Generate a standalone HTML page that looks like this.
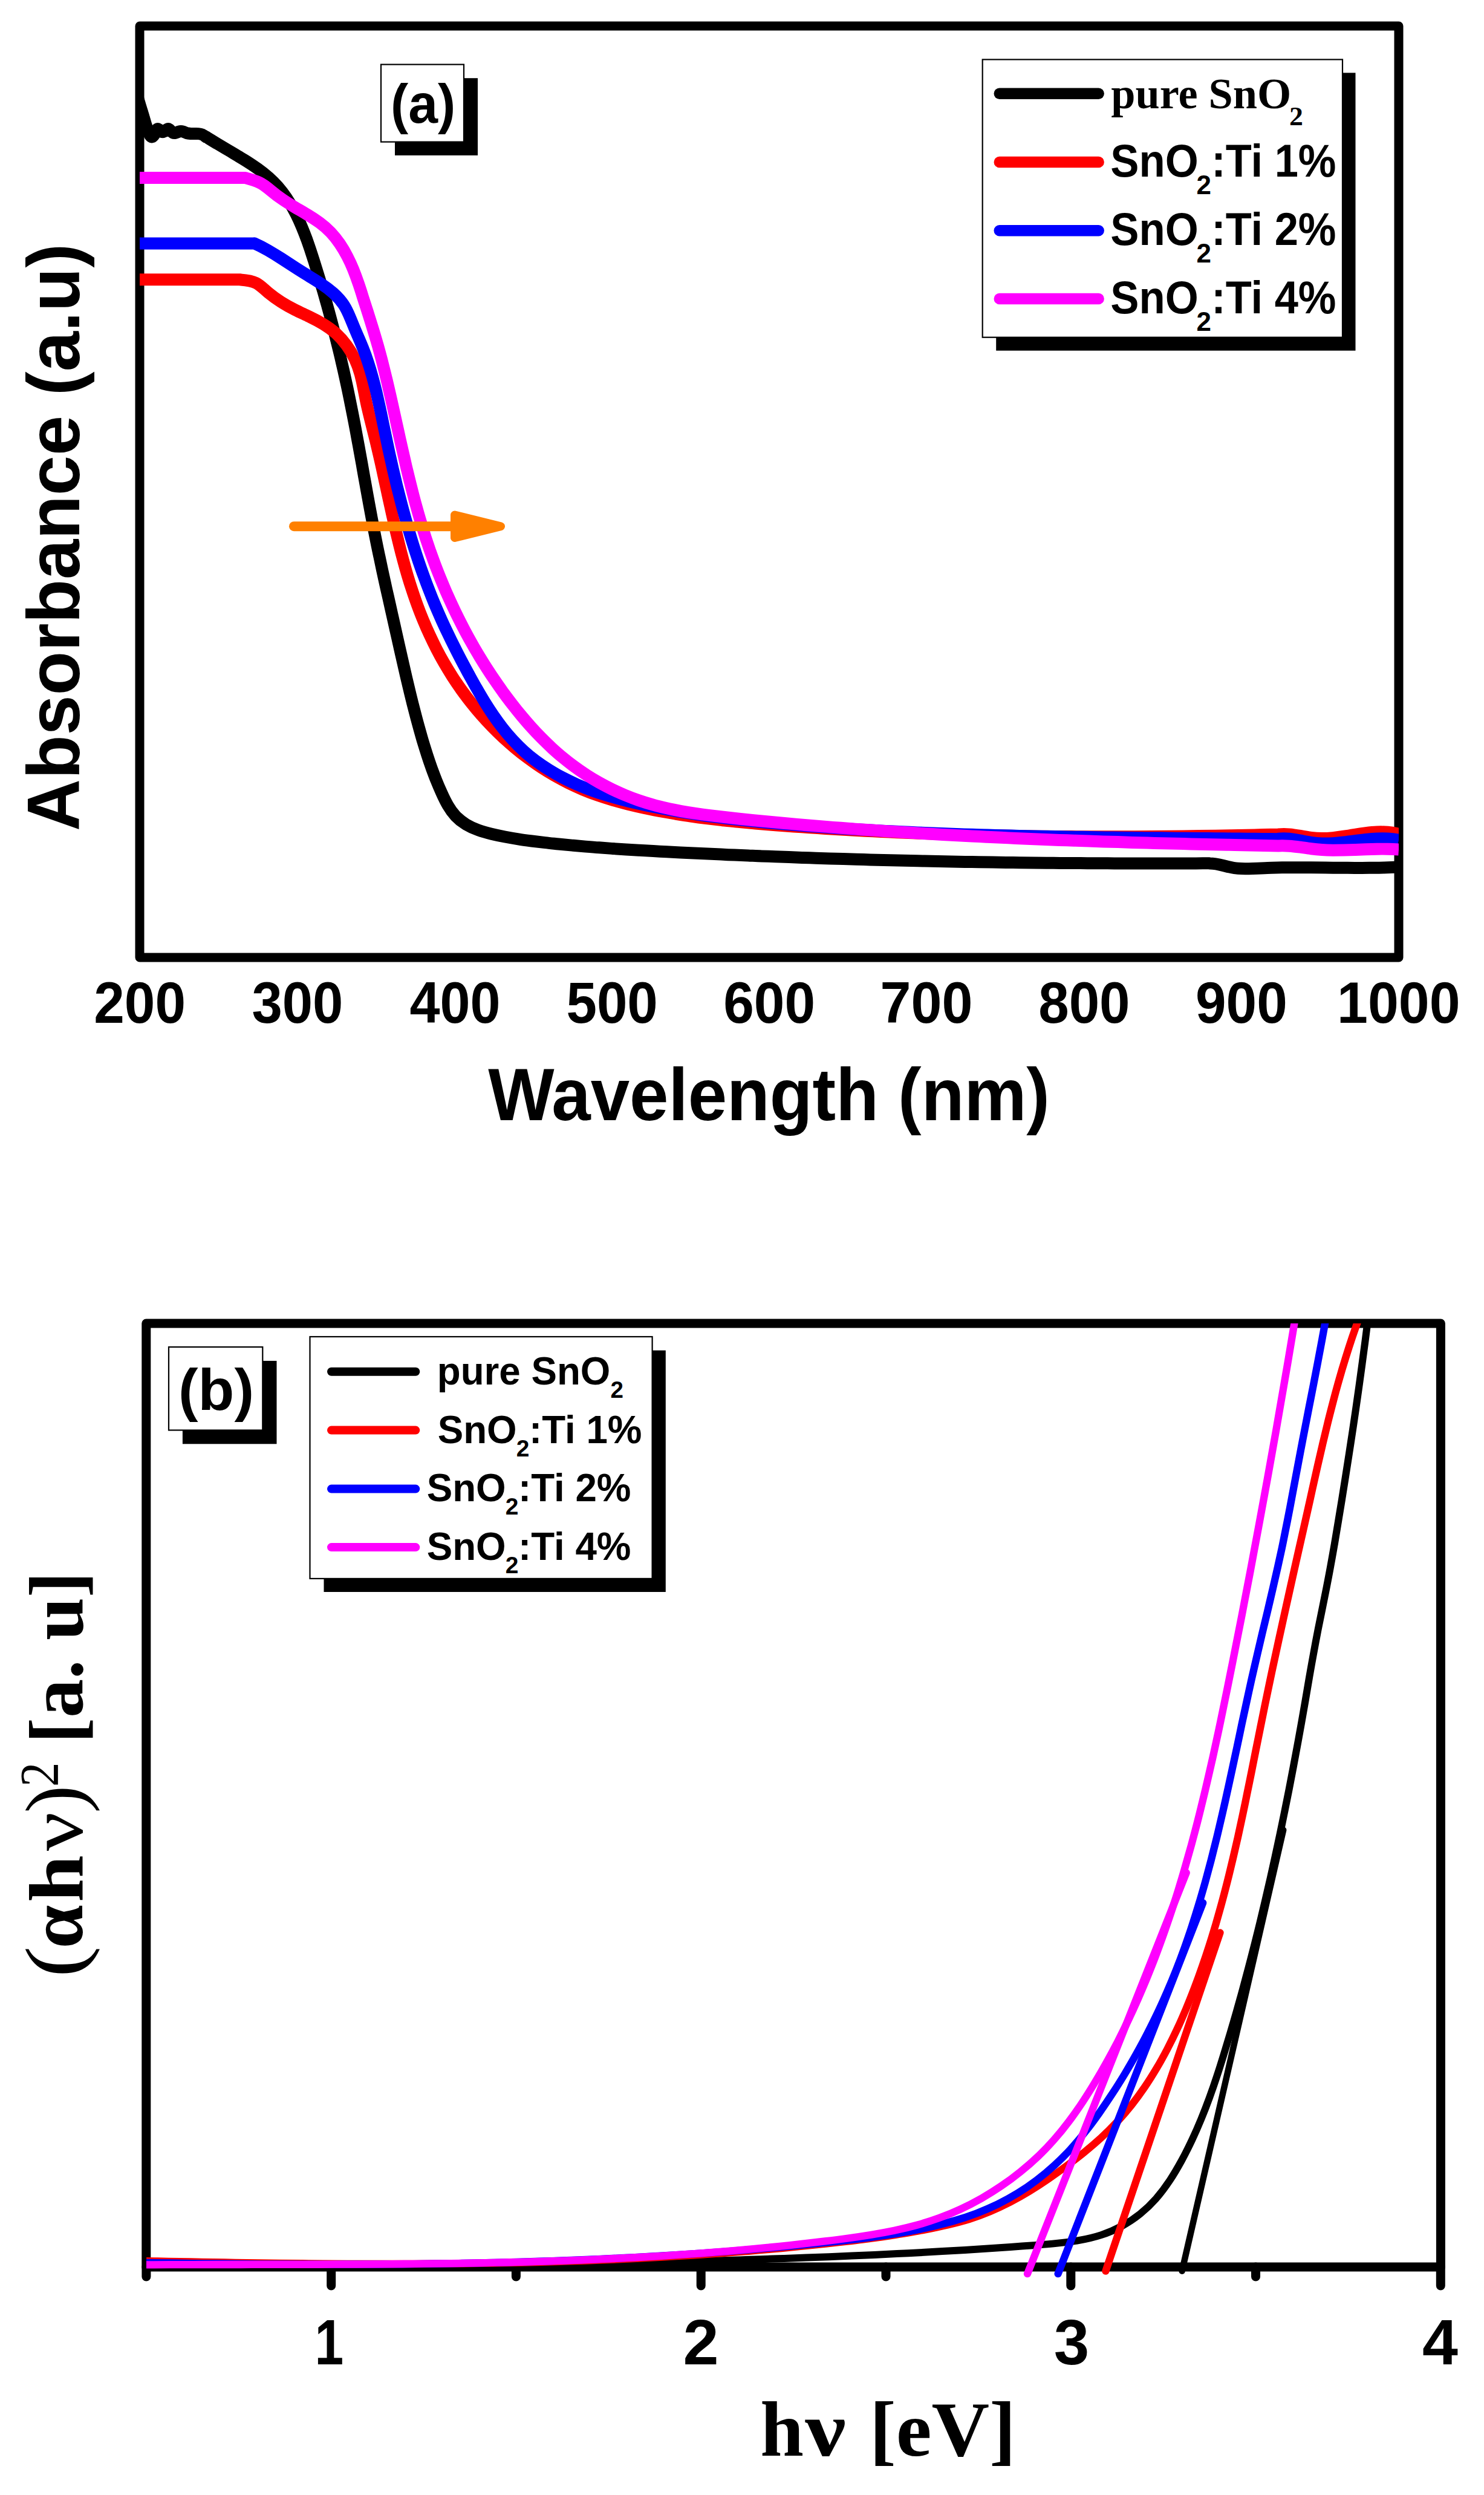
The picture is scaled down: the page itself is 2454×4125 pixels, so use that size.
<!DOCTYPE html>
<html><head><meta charset="utf-8"><title>UV-Vis absorbance and Tauc plots</title>
<style>html,body{margin:0;padding:0;background:#fff}svg{display:block}</style></head><body>
<svg width="2454" height="4125" viewBox="0 0 2454 4125">
<rect x="0" y="0" width="2454" height="4125" fill="#fff"/>
<defs><clipPath id="ca"><rect x="231" y="43" width="2082" height="1540"/></clipPath><clipPath id="cb"><rect x="241.8" y="2188" width="2140.6" height="1580"/></clipPath></defs>
<g id="panel-a">
<rect x="231" y="43" width="2082" height="1540" fill="none" stroke="#000" stroke-width="15" stroke-linejoin="round"/>
<g>
<path d="M227.0,158.0C227.5,160.0 228.1,162.1 228.7,164.2C229.3,166.3 229.9,168.4 230.6,170.5C231.2,172.6 231.8,174.8 232.5,176.9C233.1,179.1 233.8,181.2 234.5,183.3C235.1,185.4 235.7,187.5 236.4,189.5C237.0,191.6 237.6,193.6 238.1,195.5C238.7,197.4 239.2,199.3 239.8,201.2C240.4,203.1 240.9,205.0 241.6,207.0C242.2,209.1 243.0,211.2 243.8,213.6C244.6,216.0 245.6,218.7 246.7,221.2C247.8,223.7 249.0,225.8 250.4,226.3C251.8,226.8 253.5,225.4 254.9,223.1C256.3,220.9 257.3,217.8 258.2,215.6C259.2,213.4 260.3,212.4 261.9,213.5C263.5,214.6 265.5,217.1 267.6,218.0C269.6,218.9 271.6,217.5 273.5,215.9C275.4,214.2 277.3,212.6 278.9,213.1C280.6,213.7 282.1,216.0 283.8,217.7C285.5,219.5 287.4,220.4 289.5,219.9C291.5,219.5 293.8,218.3 296.0,217.5C298.2,216.8 300.3,216.9 302.4,217.6C304.5,218.3 306.5,219.3 308.6,220.0C310.8,220.6 312.9,220.8 315.1,221.0C317.3,221.1 319.5,221.0 321.7,221.0C323.9,220.9 326.0,220.9 328.2,221.1C330.3,221.3 332.4,221.7 334.4,222.5C336.4,223.4 338.4,224.6 340.2,226.4L340.4,226.0C346.9,230.2 353.3,234.0 359.6,237.8C366.0,241.6 372.3,245.3 378.6,249.0C384.9,252.8 391.3,256.5 397.6,260.4C404.0,264.2 410.5,268.2 416.8,272.5C423.2,276.7 429.4,281.1 435.4,285.8C441.4,290.5 447.0,295.5 452.2,300.8C457.5,306.0 462.3,311.6 466.8,317.4C471.2,323.2 475.4,329.3 479.2,335.6C483.1,341.8 486.6,348.3 489.9,354.9C493.2,361.6 496.3,368.4 499.2,375.3C502.1,382.2 504.8,389.2 507.4,396.3C509.9,403.4 512.4,410.5 514.7,417.7C517.1,424.9 519.4,432.1 521.6,439.3C523.9,446.5 526.1,453.7 528.3,460.9C530.4,468.1 532.6,475.3 534.7,482.5C536.7,489.7 538.8,496.9 540.8,504.1C542.8,511.3 544.8,518.5 546.7,525.8C548.6,533.0 550.5,540.2 552.4,547.4C554.2,554.6 556.0,561.8 557.8,569.1C559.6,576.3 561.4,583.5 563.1,590.8C564.8,598.0 566.4,605.3 568.1,612.5C569.7,619.8 571.3,627.1 572.9,634.4C574.5,641.6 576.0,648.9 577.5,656.2C579.0,663.6 580.5,670.9 581.9,678.2C583.4,685.5 584.8,692.9 586.2,700.2C587.6,707.6 589.0,714.9 590.3,722.3C591.7,729.7 593.1,737.0 594.4,744.4C595.7,751.8 597.0,759.2 598.4,766.6C599.7,774.0 601.0,781.3 602.3,788.7C603.6,796.1 605.0,803.5 606.3,810.9C607.6,818.3 609.0,825.6 610.3,833.0C611.7,840.4 613.0,847.8 614.4,855.1C615.8,862.5 617.2,869.9 618.6,877.2C620.1,884.5 621.5,891.9 623.0,899.2C624.5,906.5 626.0,913.9 627.6,921.2C629.1,928.5 630.6,935.8 632.2,943.1C633.8,950.4 635.4,957.7 637.0,965.0C638.6,972.3 640.2,979.5 641.9,986.8C643.5,994.1 645.1,1001.4 646.8,1008.7C648.4,1016.0 650.1,1023.3 651.7,1030.5C653.3,1037.8 655.0,1045.1 656.6,1052.4C658.2,1059.7 659.9,1067.0 661.5,1074.3C663.2,1081.6 664.8,1088.9 666.5,1096.2C668.1,1103.5 669.8,1110.8 671.5,1118.1C673.2,1125.4 674.9,1132.7 676.7,1140.0C678.4,1147.3 680.2,1154.5 682.0,1161.8C683.9,1169.1 685.7,1176.3 687.6,1183.5C689.5,1190.8 691.5,1198.0 693.5,1205.2C695.5,1212.4 697.5,1219.6 699.6,1226.7C701.8,1233.9 704.0,1241.0 706.3,1248.1C708.6,1255.2 711.0,1262.3 713.5,1269.3C716.1,1276.4 718.7,1283.4 721.5,1290.4C724.3,1297.4 727.3,1304.3 730.4,1311.2C733.5,1318.1 736.8,1325.0 740.6,1331.5C744.3,1337.9 748.6,1344.0 753.6,1349.3C758.6,1354.6 764.4,1359.1 770.7,1363.0C777.0,1366.8 783.8,1369.9 790.9,1372.4C797.9,1375.0 805.2,1377.0 812.6,1378.8C820.0,1380.6 827.4,1382.1 834.9,1383.5C842.3,1384.9 849.7,1386.2 857.1,1387.3C864.5,1388.5 871.9,1389.5 879.3,1390.5C886.7,1391.4 894.1,1392.3 901.5,1393.1C908.9,1394.0 916.3,1394.7 923.7,1395.5C931.1,1396.2 938.5,1396.9 946.0,1397.6C953.4,1398.3 960.8,1398.9 968.3,1399.6C975.7,1400.2 983.1,1400.8 990.6,1401.3C998.0,1401.9 1005.5,1402.5 1013.0,1403.0C1020.4,1403.5 1027.9,1404.0 1035.4,1404.5C1042.8,1404.9 1050.3,1405.4 1057.8,1405.8C1065.2,1406.3 1072.7,1406.7 1080.2,1407.1C1087.7,1407.5 1095.1,1407.9 1102.6,1408.3C1110.1,1408.7 1117.6,1409.1 1125.1,1409.5C1132.6,1409.8 1140.0,1410.2 1147.5,1410.6C1155.0,1410.9 1162.5,1411.3 1170.0,1411.6C1177.4,1412.0 1184.9,1412.3 1192.4,1412.6C1199.9,1413.0 1207.3,1413.3 1214.8,1413.6C1222.3,1413.9 1229.8,1414.2 1237.3,1414.5C1244.7,1414.8 1252.2,1415.2 1259.7,1415.4C1267.2,1415.7 1274.6,1416.0 1282.1,1416.3C1289.6,1416.6 1297.1,1416.9 1304.6,1417.1C1312.0,1417.4 1319.5,1417.7 1327.0,1417.9C1334.5,1418.2 1341.9,1418.5 1349.4,1418.7C1356.9,1419.0 1364.4,1419.2 1371.8,1419.4C1379.3,1419.7 1386.8,1419.9 1394.3,1420.1C1401.7,1420.4 1409.2,1420.6 1416.7,1420.8C1424.2,1421.0 1431.6,1421.2 1439.1,1421.4C1446.6,1421.6 1454.1,1421.8 1461.5,1422.0C1469.0,1422.2 1476.5,1422.4 1484.0,1422.6C1491.4,1422.8 1498.9,1422.9 1506.4,1423.1C1513.9,1423.3 1521.3,1423.4 1528.8,1423.6C1536.3,1423.8 1543.8,1423.9 1551.2,1424.1C1558.7,1424.2 1566.2,1424.4 1573.7,1424.5C1581.1,1424.6 1588.6,1424.8 1596.1,1424.9C1603.6,1425.0 1611.0,1425.1 1618.5,1425.3C1626.0,1425.4 1633.5,1425.5 1641.0,1425.6C1648.4,1425.7 1655.9,1425.8 1663.4,1425.9C1670.9,1426.0 1678.3,1426.1 1685.8,1426.2C1693.3,1426.3 1700.8,1426.4 1708.2,1426.5C1715.7,1426.5 1723.2,1426.6 1730.7,1426.7C1738.2,1426.8 1745.6,1426.8 1753.1,1426.9C1760.6,1426.9 1768.1,1427.0 1775.5,1427.0C1783.0,1427.1 1790.5,1427.1 1798.0,1427.2C1805.5,1427.2 1812.9,1427.3 1820.4,1427.3C1827.9,1427.3 1835.4,1427.4 1842.9,1427.4C1850.3,1427.4 1857.8,1427.4 1865.3,1427.5C1872.8,1427.5 1880.3,1427.5 1887.8,1427.5C1895.2,1427.5 1902.7,1427.5 1910.2,1427.5C1917.7,1427.5 1925.2,1427.5 1932.7,1427.5C1940.1,1427.5 1947.6,1427.5 1955.1,1427.4C1962.6,1427.4 1970.1,1427.4 1977.6,1427.4C1985.1,1427.3 1992.5,1427.3 2000.0,1427.3L2000.0,1427.4C2008.2,1427.3 2016.0,1429.2 2023.8,1431.2C2031.6,1433.2 2039.4,1435.1 2047.4,1435.8C2055.4,1436.5 2063.5,1436.3 2071.6,1435.9C2079.7,1435.5 2087.8,1435.1 2095.8,1434.9C2103.9,1434.6 2112.0,1434.5 2120.0,1434.3C2128.0,1434.2 2136.1,1434.2 2144.1,1434.2C2152.1,1434.2 2160.1,1434.2 2168.1,1434.3C2176.1,1434.3 2184.1,1434.4 2192.1,1434.5C2200.1,1434.6 2208.2,1434.7 2216.2,1434.8C2224.2,1434.8 2232.2,1434.9 2240.2,1434.9C2248.3,1434.9 2256.3,1434.9 2264.4,1434.8C2272.5,1434.8 2280.5,1434.6 2288.6,1434.4C2296.7,1434.2 2304.9,1433.9 2313.0,1433.5" fill="none" stroke="#000" stroke-width="20" stroke-linejoin="round" stroke-linecap="butt" clip-path="url(#ca)" />
<path d="M231.0,462.3L398.0,462.3L397.9,462.5C407.1,463.2 416.0,464.2 423.6,467.9C431.1,471.7 437.0,478.5 443.8,484.0C450.6,489.6 457.7,494.7 465.0,499.4C472.4,504.1 480.1,508.3 487.9,512.2C495.7,516.1 503.7,519.8 511.5,523.6C519.4,527.4 527.1,531.4 534.6,535.8C542.0,540.3 549.1,545.3 555.6,551.2C562.1,557.2 568.0,563.9 573.3,571.1C578.6,578.3 583.2,586.1 586.9,594.1C590.7,602.2 593.6,610.4 595.9,618.8C598.1,627.2 599.9,635.7 601.5,644.2C603.2,652.7 604.8,661.3 606.7,669.8C608.6,678.3 610.7,686.8 612.8,695.2C614.9,703.7 617.1,712.2 619.2,720.7C621.3,729.2 623.3,737.8 625.3,746.3C627.3,754.9 629.3,763.4 631.2,772.0C633.1,780.6 635.0,789.2 636.8,797.8C638.7,806.4 640.5,814.9 642.4,823.5C644.3,832.1 646.2,840.7 648.1,849.3C650.0,857.9 651.9,866.5 653.9,875.0C655.9,883.6 658.0,892.1 660.1,900.6C662.2,909.1 664.4,917.6 666.7,926.1C668.9,934.5 671.3,942.9 673.8,951.3C676.3,959.7 678.9,968.0 681.7,976.4C684.4,984.7 687.3,992.9 690.3,1001.1C693.3,1009.3 696.5,1017.5 699.9,1025.6C703.2,1033.6 706.7,1041.7 710.4,1049.6C714.1,1057.6 717.9,1065.4 721.9,1073.2C725.9,1081.0 730.1,1088.7 734.5,1096.3C738.9,1103.9 743.5,1111.4 748.2,1118.8C753.0,1126.2 757.9,1133.4 763.0,1140.6C768.1,1147.7 773.4,1154.8 778.9,1161.7C784.3,1168.5 789.9,1175.3 795.7,1181.9C801.5,1188.5 807.5,1195.0 813.6,1201.3C819.7,1207.6 826.0,1213.7 832.4,1219.7C838.9,1225.6 845.5,1231.4 852.2,1237.0C859.0,1242.7 865.9,1248.1 872.9,1253.3C879.9,1258.5 887.1,1263.6 894.4,1268.4C901.7,1273.2 909.2,1277.8 916.8,1282.2C924.4,1286.5 932.1,1290.7 939.9,1294.6C947.7,1298.4 955.7,1302.1 963.7,1305.5C971.8,1308.9 980.0,1312.0 988.3,1314.9C996.6,1317.8 1004.9,1320.4 1013.4,1322.9C1021.8,1325.3 1030.3,1327.6 1038.8,1329.7C1047.4,1331.8 1056.0,1333.8 1064.5,1335.6C1073.1,1337.5 1081.7,1339.2 1090.3,1340.9C1098.9,1342.5 1107.6,1344.0 1116.2,1345.5C1124.9,1346.9 1133.5,1348.3 1142.2,1349.5C1150.9,1350.8 1159.5,1352.0 1168.2,1353.1C1176.9,1354.2 1185.6,1355.2 1194.3,1356.2C1203.0,1357.1 1211.7,1358.1 1220.5,1358.9C1229.2,1359.8 1237.9,1360.6 1246.7,1361.3C1255.4,1362.1 1264.1,1362.8 1272.9,1363.5C1281.6,1364.2 1290.4,1364.9 1299.1,1365.5C1307.8,1366.1 1316.6,1366.8 1325.3,1367.4C1334.1,1368.0 1342.8,1368.6 1351.6,1369.1C1360.3,1369.7 1369.1,1370.2 1377.8,1370.8C1386.6,1371.3 1395.3,1371.8 1404.1,1372.3C1412.8,1372.8 1421.6,1373.2 1430.4,1373.7C1439.1,1374.1 1447.9,1374.6 1456.6,1375.0C1465.4,1375.4 1474.1,1375.8 1482.9,1376.2C1491.7,1376.6 1500.4,1376.9 1509.2,1377.3C1517.9,1377.6 1526.7,1378.0 1535.5,1378.3C1544.2,1378.6 1553.0,1378.9 1561.7,1379.2C1570.5,1379.5 1579.3,1379.7 1588.0,1380.0C1596.8,1380.2 1605.6,1380.5 1614.3,1380.7C1623.1,1380.9 1631.8,1381.1 1640.6,1381.3C1649.4,1381.5 1658.1,1381.7 1666.9,1381.8C1675.7,1382.0 1684.4,1382.2 1693.2,1382.3C1702.0,1382.4 1710.7,1382.5 1719.5,1382.7C1728.3,1382.8 1737.0,1382.9 1745.8,1382.9C1754.6,1383.0 1763.3,1383.1 1772.1,1383.1C1780.9,1383.2 1789.6,1383.2 1798.4,1383.3C1807.2,1383.3 1815.9,1383.3 1824.7,1383.3C1833.5,1383.3 1842.3,1383.3 1851.0,1383.3C1859.8,1383.3 1868.6,1383.2 1877.3,1383.2C1886.1,1383.1 1894.9,1383.1 1903.6,1383.0C1912.4,1382.9 1921.2,1382.9 1929.9,1382.8C1938.7,1382.7 1947.5,1382.6 1956.2,1382.5C1965.0,1382.4 1973.8,1382.3 1982.5,1382.1C1991.3,1382.0 2000.1,1381.9 2008.8,1381.7C2017.6,1381.6 2026.4,1381.4 2035.1,1381.2C2043.9,1381.1 2052.7,1380.9 2061.4,1380.7C2070.2,1380.5 2078.9,1380.3 2087.7,1380.1C2096.5,1379.9 2105.2,1379.7 2114.0,1379.5L2114.0,1379.5C2120.1,1378.7 2126.2,1378.8 2132.2,1379.4C2138.2,1379.9 2144.2,1380.9 2150.2,1381.9C2156.1,1383.0 2162.1,1384.1 2168.1,1384.9C2174.1,1385.7 2180.1,1386.1 2186.1,1386.1C2192.1,1386.1 2198.1,1385.7 2204.1,1385.1C2210.2,1384.5 2216.2,1383.7 2222.3,1382.7C2228.3,1381.8 2234.4,1380.8 2240.4,1379.8C2246.5,1378.8 2252.6,1377.9 2258.6,1377.1C2264.7,1376.4 2270.7,1375.8 2276.8,1375.5C2282.8,1375.2 2288.9,1375.3 2294.9,1375.8C2301.0,1376.2 2307.0,1377.2 2313.0,1378.7" fill="none" stroke="#f00" stroke-width="20" stroke-linejoin="round" stroke-linecap="butt" clip-path="url(#ca)" />
<path d="M231.0,402.6L420.0,402.6L420.2,402.2C428.1,405.7 435.8,409.7 443.2,413.9C450.6,418.2 457.9,422.7 465.1,427.3C472.3,431.9 479.5,436.6 486.8,441.4C494.0,446.1 501.4,450.7 508.9,455.3C516.3,459.8 523.9,464.4 531.1,469.2C538.3,474.0 545.2,479.1 551.5,484.7C557.8,490.4 563.5,496.6 568.2,503.6C572.9,510.7 576.5,518.8 579.8,527.0C583.2,535.2 586.5,543.5 590.0,551.5C593.5,559.5 597.0,567.4 600.1,575.4C603.3,583.4 606.2,591.5 608.8,599.6C611.5,607.8 613.9,616.0 616.2,624.3C618.5,632.6 620.6,640.9 622.6,649.3C624.5,657.7 626.4,666.1 628.2,674.5C630.0,683.0 631.8,691.4 633.5,699.9C635.3,708.4 637.0,716.9 638.8,725.3C640.5,733.8 642.4,742.3 644.2,750.8C646.1,759.2 648.0,767.7 649.9,776.2C651.9,784.6 653.9,793.1 655.9,801.5C658.0,809.9 660.1,818.3 662.3,826.7C664.4,835.1 666.7,843.5 669.0,851.9C671.3,860.2 673.6,868.6 676.1,876.9C678.5,885.2 681.0,893.5 683.6,901.7C686.2,910.0 688.9,918.2 691.6,926.4C694.4,934.6 697.2,942.8 700.2,950.9C703.1,959.0 706.1,967.1 709.3,975.1C712.4,983.2 715.6,991.2 718.9,999.1C722.3,1007.1 725.7,1015.0 729.2,1022.8C732.7,1030.7 736.4,1038.5 740.1,1046.3C743.8,1054.1 747.6,1061.9 751.5,1069.6C755.3,1077.3 759.3,1085.0 763.3,1092.7C767.4,1100.4 771.5,1108.1 775.7,1115.7C779.9,1123.3 784.1,1131.0 788.5,1138.6C792.8,1146.1 797.2,1153.7 801.8,1161.1C806.4,1168.5 811.1,1175.8 816.0,1183.0C820.9,1190.1 826.0,1197.1 831.3,1203.9C836.6,1210.7 842.2,1217.3 848.0,1223.6C853.8,1229.9 859.8,1236.0 866.2,1241.7C872.5,1247.5 879.2,1252.9 886.1,1258.1C893.0,1263.2 900.2,1268.1 907.5,1272.6C914.9,1277.2 922.4,1281.5 930.2,1285.5C937.9,1289.5 945.8,1293.3 953.8,1296.8C961.8,1300.3 969.9,1303.5 978.0,1306.5C986.2,1309.5 994.4,1312.2 1002.7,1314.8C1011.0,1317.3 1019.3,1319.6 1027.7,1321.8C1036.1,1324.0 1044.5,1326.1 1052.9,1328.0C1061.3,1329.9 1069.8,1331.7 1078.2,1333.5C1086.7,1335.2 1095.2,1336.9 1103.7,1338.4C1112.2,1340.0 1120.7,1341.5 1129.2,1342.9C1137.7,1344.2 1146.3,1345.6 1154.8,1346.8C1163.4,1348.1 1171.9,1349.3 1180.5,1350.4C1189.1,1351.5 1197.7,1352.6 1206.3,1353.6C1214.9,1354.6 1223.5,1355.5 1232.1,1356.4C1240.7,1357.4 1249.3,1358.2 1257.9,1359.0C1266.5,1359.9 1275.2,1360.7 1283.8,1361.4C1292.4,1362.2 1301.1,1362.9 1309.7,1363.6C1318.3,1364.3 1326.9,1365.0 1335.6,1365.7C1344.2,1366.3 1352.8,1367.0 1361.5,1367.6C1370.1,1368.2 1378.7,1368.8 1387.4,1369.4C1396.0,1369.9 1404.7,1370.5 1413.3,1371.0C1421.9,1371.5 1430.6,1372.0 1439.2,1372.5C1447.9,1373.0 1456.5,1373.5 1465.1,1373.9C1473.8,1374.4 1482.4,1374.8 1491.1,1375.2C1499.7,1375.6 1508.4,1376.0 1517.0,1376.4C1525.6,1376.8 1534.3,1377.2 1542.9,1377.5C1551.6,1377.8 1560.2,1378.2 1568.9,1378.5C1577.5,1378.8 1586.2,1379.1 1594.8,1379.4C1603.5,1379.7 1612.1,1380.0 1620.8,1380.2C1629.4,1380.5 1638.1,1380.7 1646.7,1380.9C1655.4,1381.2 1664.0,1381.4 1672.7,1381.6C1681.3,1381.8 1690.0,1382.0 1698.6,1382.2C1707.3,1382.4 1715.9,1382.6 1724.6,1382.7C1733.2,1382.9 1741.9,1383.1 1750.5,1383.2C1759.2,1383.4 1767.8,1383.5 1776.5,1383.7C1785.2,1383.8 1793.8,1383.9 1802.5,1384.0C1811.1,1384.2 1819.8,1384.3 1828.4,1384.4C1837.1,1384.5 1845.7,1384.6 1854.4,1384.7C1863.0,1384.8 1871.7,1384.9 1880.4,1385.0C1889.0,1385.1 1897.7,1385.2 1906.3,1385.2C1915.0,1385.3 1923.6,1385.4 1932.3,1385.5C1940.9,1385.6 1949.6,1385.7 1958.2,1385.7C1966.9,1385.8 1975.6,1385.9 1984.2,1386.0C1992.9,1386.0 2001.5,1386.1 2010.2,1386.2C2018.8,1386.3 2027.5,1386.3 2036.1,1386.4C2044.8,1386.5 2053.4,1386.6 2062.1,1386.7C2070.7,1386.8 2079.4,1386.8 2088.0,1386.9C2096.7,1387.0 2105.3,1387.1 2114.0,1387.2L2114.0,1386.8C2120.1,1386.1 2126.2,1386.2 2132.2,1386.8C2138.2,1387.4 2144.2,1388.4 2150.1,1389.6C2156.1,1390.7 2162.0,1391.9 2168.0,1392.8C2174.0,1393.7 2179.9,1394.3 2186.0,1394.5C2192.0,1394.7 2198.0,1394.6 2204.0,1394.2C2210.1,1393.8 2216.2,1393.2 2222.2,1392.5C2228.3,1391.8 2234.4,1391.0 2240.5,1390.2C2246.5,1389.4 2252.6,1388.6 2258.7,1387.9C2264.8,1387.3 2270.8,1386.8 2276.9,1386.5C2283.0,1386.2 2289.0,1386.2 2295.0,1386.5C2301.0,1386.9 2307.0,1387.6 2313.0,1388.8" fill="none" stroke="#00f" stroke-width="20" stroke-linejoin="round" stroke-linecap="butt" clip-path="url(#ca)" />
<path d="M231.0,294.0L406.0,294.0L405.9,294.2C413.8,296.3 421.8,298.5 429.0,301.8C436.3,305.2 442.4,310.4 448.5,315.6C454.6,320.8 461.0,325.6 467.6,330.0C474.2,334.5 481.0,338.7 487.9,342.8C494.8,346.9 501.8,350.9 508.7,355.1C515.5,359.2 522.3,363.6 528.7,368.3C535.2,373.1 541.2,378.3 546.8,384.1C552.3,389.9 557.3,396.3 561.9,403.0C566.5,409.7 570.6,416.8 574.3,424.0C578.1,431.3 581.4,438.6 584.4,446.0C587.4,453.5 590.1,461.0 592.7,468.6C595.3,476.1 597.7,483.7 600.1,491.4C602.6,499.0 605.0,506.7 607.5,514.4C609.9,522.0 612.4,529.7 614.7,537.4C617.1,545.1 619.5,552.9 621.7,560.6C624.0,568.3 626.2,576.1 628.3,583.9C630.4,591.6 632.4,599.4 634.3,607.2C636.3,615.0 638.2,622.8 640.1,630.7C641.9,638.5 643.7,646.3 645.5,654.1C647.3,662.0 649.1,669.8 650.8,677.7C652.5,685.5 654.3,693.4 656.0,701.2C657.7,709.1 659.5,716.9 661.2,724.8C662.9,732.6 664.7,740.5 666.5,748.3C668.3,756.2 670.1,764.0 671.9,771.9C673.8,779.7 675.6,787.5 677.6,795.3C679.5,803.2 681.5,811.0 683.5,818.7C685.5,826.5 687.6,834.3 689.8,842.0C691.9,849.8 694.2,857.5 696.5,865.2C698.8,872.9 701.2,880.6 703.6,888.3C706.1,895.9 708.7,903.5 711.3,911.1C714.0,918.7 716.7,926.3 719.6,933.8C722.4,941.3 725.4,948.8 728.4,956.3C731.4,963.7 734.5,971.1 737.7,978.5C741.0,985.9 744.3,993.2 747.7,1000.5C751.1,1007.8 754.6,1015.1 758.2,1022.3C761.8,1029.5 765.4,1036.6 769.2,1043.7C773.0,1050.8 776.9,1057.9 780.9,1064.9C784.8,1071.9 788.9,1078.8 793.1,1085.7C797.3,1092.6 801.5,1099.4 805.9,1106.2C810.2,1112.9 814.7,1119.7 819.3,1126.3C823.8,1133.0 828.5,1139.5 833.2,1146.1C838.0,1152.6 842.8,1159.0 847.8,1165.4C852.7,1171.8 857.8,1178.1 863.0,1184.3C868.2,1190.5 873.4,1196.6 878.8,1202.5C884.2,1208.5 889.8,1214.4 895.4,1220.1C901.1,1225.8 906.8,1231.4 912.7,1236.8C918.6,1242.3 924.7,1247.5 930.9,1252.7C937.0,1257.8 943.4,1262.7 949.8,1267.4C956.3,1272.2 962.9,1276.7 969.7,1281.1C976.4,1285.4 983.3,1289.6 990.3,1293.5C997.4,1297.4 1004.5,1301.2 1011.7,1304.7C1019.0,1308.2 1026.3,1311.5 1033.7,1314.6C1041.2,1317.7 1048.7,1320.6 1056.3,1323.2C1063.9,1325.8 1071.6,1328.2 1079.3,1330.4C1087.0,1332.6 1094.8,1334.5 1102.7,1336.3C1110.5,1338.1 1118.4,1339.6 1126.3,1341.1C1134.2,1342.5 1142.2,1343.8 1150.2,1344.9C1158.1,1346.1 1166.1,1347.2 1174.2,1348.2C1182.2,1349.2 1190.2,1350.1 1198.2,1351.0C1206.2,1351.9 1214.2,1352.8 1222.3,1353.7C1230.3,1354.5 1238.3,1355.4 1246.3,1356.2C1254.3,1357.0 1262.3,1357.8 1270.3,1358.5C1278.3,1359.3 1286.3,1360.1 1294.4,1360.8C1302.4,1361.5 1310.4,1362.2 1318.4,1362.9C1326.4,1363.6 1334.4,1364.3 1342.4,1365.0C1350.4,1365.7 1358.4,1366.3 1366.4,1366.9C1374.4,1367.6 1382.5,1368.2 1390.5,1368.8C1398.5,1369.4 1406.5,1370.0 1414.5,1370.6C1422.5,1371.2 1430.6,1371.8 1438.6,1372.3C1446.6,1372.9 1454.6,1373.5 1462.7,1374.0C1470.7,1374.5 1478.7,1375.1 1486.7,1375.6C1494.8,1376.1 1502.8,1376.6 1510.8,1377.1C1518.9,1377.6 1526.9,1378.1 1534.9,1378.5C1543.0,1379.0 1551.0,1379.5 1559.0,1379.9C1567.1,1380.4 1575.1,1380.8 1583.1,1381.2C1591.2,1381.7 1599.2,1382.1 1607.2,1382.5C1615.3,1382.9 1623.3,1383.3 1631.4,1383.7C1639.4,1384.1 1647.4,1384.4 1655.5,1384.8C1663.5,1385.2 1671.6,1385.6 1679.6,1385.9C1687.7,1386.3 1695.7,1386.6 1703.7,1386.9C1711.8,1387.3 1719.8,1387.6 1727.9,1387.9C1735.9,1388.2 1744.0,1388.6 1752.0,1388.9C1760.1,1389.2 1768.1,1389.5 1776.2,1389.7C1784.2,1390.0 1792.2,1390.3 1800.3,1390.6C1808.3,1390.9 1816.4,1391.1 1824.4,1391.4C1832.5,1391.6 1840.5,1391.9 1848.6,1392.1C1856.6,1392.4 1864.7,1392.6 1872.7,1392.9C1880.8,1393.1 1888.8,1393.3 1896.8,1393.6C1904.9,1393.8 1912.9,1394.0 1921.0,1394.2C1929.0,1394.4 1937.1,1394.6 1945.1,1394.8C1953.2,1395.0 1961.2,1395.2 1969.3,1395.4C1977.3,1395.6 1985.3,1395.8 1993.4,1396.0C2001.4,1396.2 2009.5,1396.4 2017.5,1396.5C2025.5,1396.7 2033.6,1396.9 2041.6,1397.0C2049.7,1397.2 2057.7,1397.4 2065.7,1397.5C2073.8,1397.7 2081.8,1397.9 2089.9,1398.0C2097.9,1398.2 2105.9,1398.3 2114.0,1398.5L2114.0,1398.4C2120.1,1398.0 2126.1,1398.2 2132.1,1398.7C2138.2,1399.1 2144.1,1399.9 2150.1,1400.7C2156.1,1401.5 2162.1,1402.5 2168.1,1403.2C2174.1,1404.0 2180.1,1404.6 2186.1,1405.0C2192.1,1405.4 2198.2,1405.6 2204.2,1405.7C2210.2,1405.7 2216.3,1405.7 2222.4,1405.6C2228.4,1405.4 2234.5,1405.2 2240.5,1405.0C2246.6,1404.8 2252.7,1404.5 2258.7,1404.3C2264.8,1404.1 2270.8,1403.9 2276.9,1403.7C2282.9,1403.6 2289.0,1403.6 2295.0,1403.7C2301.0,1403.8 2307.0,1404.0 2313.0,1404.4" fill="none" stroke="#f0f" stroke-width="20" stroke-linejoin="round" stroke-linecap="butt" clip-path="url(#ca)" />
<path d="M486,870.2H760" fill="none" stroke="#ff8000" stroke-width="16" stroke-linecap="round"/>
<path d="M752,851.5L828,870.2L752,889Z" fill="#ff8000" stroke="#ff8000" stroke-width="14" stroke-linejoin="round"/>
</g>
<rect x="653" y="129.2" width="137" height="127.7" fill="#000"/>
<rect x="630" y="106.6" width="137" height="128" fill="#fff" stroke="#000" stroke-width="2.2"/>
<rect x="1647.2" y="120.4" width="594.3" height="459.3" fill="#000"/>
<rect x="1624.7" y="98.4" width="595.3" height="459.3" fill="#fff" stroke="#000" stroke-width="2.2"/>
<path d="M1652.7,154.8H1816.7" stroke="#000" stroke-width="18.4" stroke-linecap="round" fill="none"/>
<path d="M1652.7,268H1816.7" stroke="#f00" stroke-width="18.4" stroke-linecap="round" fill="none"/>
<path d="M1652.7,381.3H1816.7" stroke="#00f" stroke-width="18.4" stroke-linecap="round" fill="none"/>
<path d="M1652.7,494H1816.7" stroke="#f0f" stroke-width="18.4" stroke-linecap="round" fill="none"/>
</g>
<g id="panel-b">
<rect x="241.8" y="2188" width="2140.6" height="1560" fill="none" stroke="#000" stroke-width="15" stroke-linejoin="round"/>
<path d="M241.9,3748V3764" stroke="#000" stroke-width="15" stroke-linecap="round" fill="none"/>
<path d="M547.7,3748V3779" stroke="#000" stroke-width="15" stroke-linecap="round" fill="none"/>
<path d="M853.4,3748V3764" stroke="#000" stroke-width="15" stroke-linecap="round" fill="none"/>
<path d="M1159.2,3748V3779" stroke="#000" stroke-width="15" stroke-linecap="round" fill="none"/>
<path d="M1465.0,3748V3764" stroke="#000" stroke-width="15" stroke-linecap="round" fill="none"/>
<path d="M1770.8,3748V3779" stroke="#000" stroke-width="15" stroke-linecap="round" fill="none"/>
<path d="M2076.5,3748V3764" stroke="#000" stroke-width="15" stroke-linecap="round" fill="none"/>
<path d="M2382.3,3748V3779" stroke="#000" stroke-width="15" stroke-linecap="round" fill="none"/>
<path d="M242.0,3743.9C254.5,3743.9 267.1,3743.9 279.6,3743.9C292.1,3744.0 304.7,3744.0 317.2,3744.0C329.7,3744.1 342.3,3744.1 354.8,3744.1C367.3,3744.2 379.9,3744.2 392.4,3744.2C405.0,3744.3 417.5,3744.3 430.0,3744.3C442.6,3744.3 455.1,3744.3 467.7,3744.4C480.2,3744.4 492.7,3744.4 505.3,3744.4C517.8,3744.4 530.4,3744.4 542.9,3744.4C555.5,3744.4 568.0,3744.4 580.6,3744.4C593.1,3744.4 605.7,3744.4 618.2,3744.4C630.7,3744.3 643.3,3744.3 655.8,3744.3C668.4,3744.3 680.9,3744.2 693.5,3744.2C706.0,3744.1 718.6,3744.1 731.1,3744.0C743.7,3744.0 756.2,3743.9 768.8,3743.8C781.3,3743.7 793.9,3743.7 806.4,3743.6C819.0,3743.5 831.5,3743.4 844.1,3743.3C856.6,3743.1 869.2,3743.0 881.7,3742.9C894.2,3742.8 906.8,3742.6 919.3,3742.5C931.9,3742.3 944.4,3742.1 957.0,3742.0C969.5,3741.8 982.1,3741.6 994.6,3741.4C1007.2,3741.2 1019.7,3741.0 1032.2,3740.8C1044.8,3740.6 1057.3,3740.3 1069.9,3740.1C1082.4,3739.8 1094.9,3739.6 1107.5,3739.3C1120.0,3739.0 1132.6,3738.7 1145.1,3738.4C1157.6,3738.1 1170.2,3737.8 1182.7,3737.4C1195.2,3737.1 1207.8,3736.7 1220.3,3736.4C1232.8,3736.0 1245.4,3735.6 1257.9,3735.2C1270.4,3734.8 1283.0,3734.4 1295.5,3734.0C1308.0,3733.5 1320.5,3733.1 1333.1,3732.6C1345.6,3732.2 1358.1,3731.7 1370.6,3731.2C1383.2,3730.7 1395.7,3730.1 1408.2,3729.6C1420.7,3729.0 1433.2,3728.5 1445.7,3727.9C1458.2,3727.3 1470.8,3726.7 1483.3,3726.1C1495.8,3725.5 1508.3,3724.8 1520.8,3724.2C1533.3,3723.5 1545.8,3722.8 1558.3,3722.1C1570.8,3721.4 1583.3,3720.7 1595.8,3719.9C1608.3,3719.2 1620.8,3718.4 1633.4,3717.6C1645.9,3716.7 1658.5,3715.9 1671.0,3715.0C1683.6,3714.1 1696.3,3713.1 1708.9,3712.2C1721.6,3711.2 1734.4,3710.2 1747.1,3708.9C1759.8,3707.6 1772.4,3706.1 1784.8,3703.9C1797.2,3701.7 1809.3,3698.9 1821.0,3695.1C1832.7,3691.3 1844.0,3686.4 1854.7,3680.6C1865.5,3674.8 1875.6,3668.1 1885.2,3660.4C1894.7,3652.8 1903.7,3644.2 1911.8,3634.9C1920.0,3625.5 1927.5,3615.4 1934.5,3604.8C1941.5,3594.2 1947.9,3583.1 1954.0,3572.0C1960.1,3560.8 1965.7,3549.5 1971.1,3538.1C1976.5,3526.7 1981.5,3515.2 1986.3,3503.5C1991.1,3491.9 1995.6,3480.2 1999.9,3468.4C2004.2,3456.6 2008.3,3444.8 2012.2,3432.9C2016.2,3420.9 2019.9,3409.0 2023.6,3397.0C2027.3,3385.0 2030.9,3373.0 2034.5,3361.0C2038.1,3348.9 2041.5,3336.9 2045.0,3324.8C2048.4,3312.8 2051.8,3300.7 2055.1,3288.6C2058.4,3276.5 2061.6,3264.4 2064.8,3252.3C2068.0,3240.2 2071.1,3228.0 2074.2,3215.9C2077.3,3203.7 2080.3,3191.6 2083.3,3179.4C2086.2,3167.2 2089.2,3155.0 2092.0,3142.8C2094.9,3130.6 2097.7,3118.4 2100.5,3106.2C2103.2,3094.0 2106.0,3081.7 2108.6,3069.5C2111.3,3057.2 2113.9,3045.0 2116.5,3032.7C2119.1,3020.4 2121.6,3008.2 2124.1,2995.9C2126.6,2983.6 2129.1,2971.3 2131.5,2959.0C2133.9,2946.7 2136.3,2934.4 2138.6,2922.0C2140.9,2909.7 2143.2,2897.4 2145.5,2885.0C2147.8,2872.7 2150.0,2860.4 2152.2,2848.0C2154.4,2835.7 2156.5,2823.3 2158.7,2810.9C2160.8,2798.6 2162.9,2786.2 2165.0,2773.8C2167.2,2761.5 2169.3,2749.1 2171.6,2736.8C2173.8,2724.5 2176.1,2712.1 2178.5,2699.8C2180.9,2687.5 2183.4,2675.2 2185.9,2663.0C2188.4,2650.7 2190.9,2638.4 2193.3,2626.1C2195.7,2613.8 2198.1,2601.5 2200.3,2589.2C2202.6,2576.9 2204.7,2564.5 2206.9,2552.2C2209.0,2539.8 2211.1,2527.4 2213.1,2515.1C2215.2,2502.7 2217.2,2490.3 2219.2,2477.9C2221.2,2465.6 2223.1,2453.2 2225.1,2440.8C2227.1,2428.4 2229.0,2416.0 2230.9,2403.6C2232.8,2391.2 2234.7,2378.8 2236.6,2366.4C2238.4,2354.0 2240.3,2341.6 2242.1,2329.2C2243.9,2316.7 2245.6,2304.3 2247.4,2291.9C2249.1,2279.5 2250.9,2267.1 2252.5,2254.6C2254.2,2242.2 2255.9,2229.8 2257.5,2217.3C2259.1,2204.9 2260.6,2192.5 2262.2,2180.0" fill="none" stroke="#000" stroke-width="12" stroke-linejoin="round" stroke-linecap="butt" clip-path="url(#cb)" />
<path d="M1954.6,3754.7L2122.2,3025.5" stroke="#000" stroke-width="10.5" stroke-linecap="round" fill="none"/>
<path d="M242.0,3738.1C254.3,3738.4 266.5,3738.6 278.8,3738.8C291.1,3739.1 303.4,3739.3 315.6,3739.5C327.9,3739.7 340.2,3740.0 352.5,3740.2C364.8,3740.4 377.1,3740.6 389.4,3740.8C401.6,3741.0 413.9,3741.2 426.2,3741.3C438.5,3741.5 450.8,3741.7 463.1,3741.8C475.4,3742.0 487.7,3742.1 500.0,3742.2C512.3,3742.4 524.6,3742.5 536.9,3742.6C549.2,3742.7 561.5,3742.8 573.8,3742.8C586.1,3742.9 598.4,3742.9 610.7,3743.0C623.1,3743.0 635.4,3743.0 647.7,3743.0C660.0,3743.0 672.3,3743.0 684.6,3742.9C696.9,3742.9 709.2,3742.8 721.5,3742.7C733.8,3742.6 746.1,3742.5 758.4,3742.4C770.8,3742.3 783.1,3742.1 795.4,3741.9C807.7,3741.7 820.0,3741.5 832.3,3741.3C844.6,3741.1 856.9,3740.8 869.2,3740.5C881.5,3740.2 893.8,3739.9 906.1,3739.5C918.4,3739.2 930.7,3738.8 943.0,3738.4C955.3,3738.0 967.6,3737.5 979.9,3737.1C992.2,3736.6 1004.5,3736.1 1016.8,3735.5C1029.1,3735.0 1041.4,3734.4 1053.7,3733.8C1066.0,3733.2 1078.2,3732.6 1090.5,3731.9C1102.8,3731.2 1115.1,3730.5 1127.4,3729.7C1139.7,3728.9 1151.9,3728.1 1164.2,3727.3C1176.5,3726.5 1188.8,3725.6 1201.0,3724.6C1213.3,3723.7 1225.6,3722.8 1237.8,3721.8C1250.1,3720.7 1262.3,3719.7 1274.6,3718.6C1286.9,3717.5 1299.1,3716.4 1311.4,3715.2C1323.6,3714.0 1335.8,3712.8 1348.1,3711.5C1360.3,3710.2 1372.6,3708.9 1384.8,3707.5C1397.0,3706.1 1409.2,3704.7 1421.5,3703.1C1433.7,3701.6 1445.9,3700.0 1458.0,3698.3C1470.2,3696.5 1482.4,3694.7 1494.5,3692.7C1506.6,3690.6 1518.7,3688.5 1530.8,3686.1C1542.9,3683.7 1554.9,3681.2 1566.9,3678.4C1578.8,3675.6 1590.8,3672.6 1602.5,3669.0C1614.2,3665.4 1625.8,3661.2 1637.1,3656.4C1648.4,3651.7 1659.4,3646.5 1670.3,3640.9C1681.1,3635.2 1691.8,3629.2 1702.3,3622.8C1712.7,3616.4 1723.1,3609.7 1733.2,3602.7C1743.4,3595.7 1753.4,3588.5 1763.4,3581.1C1773.3,3573.7 1783.2,3566.2 1792.8,3558.4C1802.4,3550.6 1811.9,3542.5 1821.0,3534.2C1830.1,3525.9 1838.8,3517.2 1847.2,3508.3C1855.5,3499.3 1863.5,3490.0 1871.1,3480.4C1878.7,3470.8 1885.9,3460.9 1892.8,3450.8C1899.7,3440.7 1906.2,3430.3 1912.5,3419.7C1918.8,3409.2 1924.7,3398.4 1930.4,3387.5C1936.1,3376.5 1941.6,3365.4 1946.8,3354.2C1952.0,3343.0 1956.9,3331.7 1961.7,3320.3C1966.4,3309.0 1971.0,3297.5 1975.4,3286.0C1979.8,3274.5 1984.0,3262.9 1988.0,3251.3C1992.1,3239.7 1996.0,3228.1 1999.7,3216.4C2003.4,3204.7 2007.0,3192.9 2010.5,3181.2C2013.9,3169.4 2017.3,3157.6 2020.5,3145.7C2023.7,3133.8 2026.8,3122.0 2029.8,3110.0C2032.8,3098.1 2035.7,3086.2 2038.5,3074.2C2041.3,3062.3 2044.1,3050.3 2046.8,3038.3C2049.4,3026.2 2052.0,3014.2 2054.6,3002.2C2057.2,2990.1 2059.7,2978.1 2062.1,2966.0C2064.6,2953.9 2067.1,2941.9 2069.5,2929.8C2071.9,2917.7 2074.3,2905.6 2076.7,2893.5C2079.1,2881.4 2081.6,2869.4 2084.0,2857.3C2086.4,2845.2 2088.8,2833.1 2091.3,2821.1C2093.8,2809.0 2096.3,2797.0 2098.8,2784.9C2101.3,2772.9 2103.9,2760.8 2106.5,2748.8C2109.0,2736.8 2111.6,2724.8 2114.3,2712.7C2116.9,2700.7 2119.5,2688.7 2122.2,2676.7C2124.8,2664.7 2127.5,2652.7 2130.2,2640.7C2132.8,2628.7 2135.5,2616.7 2138.2,2604.7C2140.9,2592.7 2143.6,2580.7 2146.3,2568.7C2149.0,2556.8 2151.7,2544.8 2154.4,2532.8C2157.1,2520.8 2159.8,2508.8 2162.5,2496.8C2165.2,2484.8 2167.9,2472.7 2170.5,2460.7C2173.2,2448.7 2175.9,2436.7 2178.6,2424.7C2181.3,2412.7 2184.1,2400.7 2186.9,2388.7C2189.7,2376.8 2192.6,2364.8 2195.5,2352.8C2198.4,2340.9 2201.5,2329.0 2204.6,2317.1C2207.7,2305.2 2210.9,2293.3 2214.3,2281.5C2217.6,2269.7 2221.1,2257.9 2224.8,2246.1C2228.4,2234.4 2232.2,2222.6 2236.1,2211.0C2240.1,2199.3 2244.2,2187.7 2248.6,2176.2" fill="none" stroke="#f00" stroke-width="12.3" stroke-linejoin="round" stroke-linecap="butt" clip-path="url(#cb)" />
<path d="M1828.4,3754.7L2017.5,3195.3" stroke="#f00" stroke-width="12.3" stroke-linecap="round" fill="none"/>
<path d="M241.9,3740.9C254.7,3741.1 267.5,3741.3 280.3,3741.5C293.1,3741.7 305.9,3741.9 318.6,3742.1C331.4,3742.2 344.2,3742.4 357.0,3742.5C369.8,3742.7 382.6,3742.8 395.4,3742.9C408.1,3743.1 420.9,3743.2 433.7,3743.3C446.5,3743.4 459.2,3743.5 472.0,3743.5C484.8,3743.6 497.6,3743.6 510.3,3743.7C523.1,3743.7 535.9,3743.7 548.6,3743.8C561.4,3743.8 574.1,3743.7 586.9,3743.7C599.6,3743.7 612.4,3743.6 625.2,3743.6C637.9,3743.5 650.7,3743.4 663.4,3743.3C676.2,3743.2 688.9,3743.1 701.7,3742.9C714.4,3742.7 727.2,3742.6 739.9,3742.4C752.6,3742.2 765.4,3741.9 778.1,3741.7C790.9,3741.4 803.6,3741.2 816.3,3740.9C829.1,3740.6 841.8,3740.2 854.6,3739.9C867.3,3739.5 880.0,3739.1 892.8,3738.7C905.5,3738.3 918.3,3737.9 931.0,3737.4C943.7,3736.9 956.5,3736.4 969.2,3735.9C981.9,3735.4 994.7,3734.8 1007.4,3734.2C1020.1,3733.6 1032.9,3733.0 1045.6,3732.3C1058.4,3731.6 1071.1,3730.9 1083.8,3730.2C1096.6,3729.5 1109.3,3728.7 1122.0,3727.9C1134.8,3727.1 1147.5,3726.2 1160.3,3725.4C1173.0,3724.5 1185.7,3723.6 1198.5,3722.6C1211.2,3721.6 1224.0,3720.6 1236.7,3719.6C1249.4,3718.5 1262.2,3717.5 1274.9,3716.3C1287.7,3715.2 1300.4,3714.1 1313.2,3712.8C1325.9,3711.6 1338.7,3710.4 1351.4,3709.1C1364.2,3707.8 1376.9,3706.5 1389.7,3705.1C1402.4,3703.7 1415.2,3702.2 1427.9,3700.6C1440.6,3699.0 1453.3,3697.3 1466.0,3695.4C1478.6,3693.5 1491.3,3691.4 1503.8,3689.1C1516.4,3686.7 1528.9,3684.1 1541.3,3681.2C1553.7,3678.3 1566.1,3675.1 1578.3,3671.5C1590.6,3667.9 1602.7,3663.9 1614.6,3659.4C1626.5,3654.9 1638.2,3649.9 1649.6,3644.4C1660.9,3638.8 1672.0,3632.7 1682.8,3626.1C1693.6,3619.4 1704.0,3612.3 1714.1,3604.6C1724.2,3597.0 1734.0,3588.9 1743.3,3580.3C1752.7,3571.7 1761.7,3562.7 1770.3,3553.3C1778.9,3543.9 1787.1,3534.1 1795.0,3524.0C1803.0,3514.0 1810.6,3503.6 1818.0,3493.1C1825.4,3482.6 1832.6,3471.9 1839.6,3461.2C1846.7,3450.4 1853.5,3439.5 1860.1,3428.6C1866.7,3417.6 1873.2,3406.5 1879.4,3395.3C1885.6,3384.1 1891.7,3372.9 1897.5,3361.5C1903.4,3350.2 1909.0,3338.7 1914.5,3327.2C1920.0,3315.6 1925.2,3304.0 1930.3,3292.3C1935.4,3280.6 1940.2,3268.9 1944.9,3257.0C1949.6,3245.2 1954.1,3233.3 1958.4,3221.3C1962.7,3209.4 1966.8,3197.3 1970.8,3185.2C1974.7,3173.2 1978.5,3161.0 1982.2,3148.8C1985.9,3136.6 1989.4,3124.4 1992.9,3112.1C1996.3,3099.8 1999.6,3087.5 2002.8,3075.2C2006.0,3062.8 2009.1,3050.4 2012.1,3038.0C2015.1,3025.6 2018.0,3013.2 2020.9,3000.7C2023.8,2988.2 2026.6,2975.8 2029.3,2963.3C2032.1,2950.8 2034.8,2938.3 2037.5,2925.7C2040.2,2913.2 2042.9,2900.7 2045.6,2888.2C2048.2,2875.7 2050.9,2863.1 2053.5,2850.6C2056.2,2838.1 2058.9,2825.6 2061.6,2813.1C2064.3,2800.6 2067.0,2788.2 2069.8,2775.7C2072.6,2763.3 2075.5,2750.8 2078.4,2738.4C2081.3,2726.0 2084.2,2713.6 2087.1,2701.2C2090.1,2688.8 2093.0,2676.5 2096.0,2664.1C2098.9,2651.7 2101.8,2639.3 2104.7,2626.9C2107.6,2614.5 2110.4,2602.1 2113.2,2589.7C2116.0,2577.3 2118.7,2564.8 2121.3,2552.3C2123.9,2539.8 2126.4,2527.3 2128.8,2514.8C2131.3,2502.2 2133.7,2489.7 2136.0,2477.1C2138.4,2464.6 2140.7,2452.0 2143.1,2439.4C2145.4,2426.9 2147.8,2414.3 2150.2,2401.7C2152.5,2389.2 2155.0,2376.6 2157.4,2364.1C2159.8,2351.6 2162.3,2339.0 2164.7,2326.5C2167.2,2314.0 2169.6,2301.4 2172.1,2288.9C2174.5,2276.4 2176.9,2263.9 2179.3,2251.3C2181.7,2238.8 2184.1,2226.3 2186.4,2213.7C2188.7,2201.2 2191.0,2188.6 2193.2,2176.1" fill="none" stroke="#00f" stroke-width="12.3" stroke-linejoin="round" stroke-linecap="butt" clip-path="url(#cb)" />
<path d="M1749.6,3759.2L1989.2,3146" stroke="#00f" stroke-width="12.3" stroke-linecap="round" fill="none"/>
<path d="M242.0,3744.4C254.9,3744.4 267.8,3744.3 280.7,3744.2C293.6,3744.2 306.5,3744.1 319.4,3744.1C332.3,3744.1 345.2,3744.1 358.1,3744.0C371.0,3744.0 383.9,3744.0 396.9,3744.0C409.8,3744.0 422.7,3743.9 435.6,3743.9C448.5,3743.9 461.4,3743.9 474.3,3743.9C487.2,3743.9 500.1,3743.8 513.1,3743.8C526.0,3743.8 538.9,3743.8 551.8,3743.7C564.7,3743.7 577.6,3743.6 590.5,3743.6C603.5,3743.5 616.4,3743.4 629.3,3743.3C642.2,3743.3 655.1,3743.2 668.0,3743.0C680.9,3742.9 693.9,3742.8 706.8,3742.7C719.7,3742.5 732.6,3742.3 745.5,3742.1C758.4,3741.9 771.3,3741.7 784.2,3741.5C797.1,3741.3 810.1,3741.0 823.0,3740.7C835.9,3740.4 848.8,3740.1 861.7,3739.8C874.6,3739.4 887.5,3739.0 900.4,3738.6C913.3,3738.2 926.2,3737.8 939.1,3737.3C952.0,3736.8 964.9,3736.3 977.8,3735.8C990.7,3735.2 1003.6,3734.6 1016.5,3734.0C1029.4,3733.4 1042.3,3732.7 1055.1,3732.0C1068.0,3731.3 1080.9,3730.6 1093.8,3729.8C1106.7,3729.0 1119.6,3728.1 1132.4,3727.2C1145.3,3726.4 1158.2,3725.4 1171.1,3724.4C1183.9,3723.4 1196.8,3722.4 1209.7,3721.3C1222.5,3720.2 1235.4,3719.1 1248.3,3717.9C1261.1,3716.7 1274.0,3715.4 1286.8,3714.1C1299.7,3712.8 1312.5,3711.4 1325.4,3709.9C1338.2,3708.5 1351.1,3707.0 1363.9,3705.4C1376.8,3703.9 1389.6,3702.3 1402.4,3700.5C1415.3,3698.8 1428.0,3696.9 1440.8,3694.8C1453.5,3692.7 1466.2,3690.4 1478.8,3687.8C1491.3,3685.1 1503.8,3682.1 1516.2,3678.7C1528.5,3675.3 1540.8,3671.5 1552.8,3667.1C1564.9,3662.8 1576.8,3657.9 1588.5,3652.4C1600.2,3647.0 1611.7,3641.0 1623.0,3634.6C1634.2,3628.1 1645.3,3621.2 1656.0,3613.9C1666.8,3606.6 1677.2,3598.9 1687.3,3590.7C1697.4,3582.6 1707.2,3574.1 1716.5,3565.2C1725.9,3556.3 1734.8,3547.0 1743.3,3537.3C1751.8,3527.7 1759.8,3517.8 1767.5,3507.5C1775.2,3497.3 1782.6,3486.8 1789.7,3476.1C1796.8,3465.4 1803.6,3454.5 1810.3,3443.4C1817.0,3432.4 1823.5,3421.3 1829.7,3410.0C1836.0,3398.7 1842.1,3387.3 1848.1,3375.8C1854.0,3364.3 1859.7,3352.7 1865.3,3341.0C1870.9,3329.3 1876.3,3317.5 1881.5,3305.7C1886.7,3293.8 1891.8,3281.9 1896.7,3269.9C1901.6,3257.9 1906.4,3245.9 1911.0,3233.8C1915.6,3221.7 1920.0,3209.6 1924.3,3197.5C1928.7,3185.3 1932.8,3173.1 1936.9,3160.9C1940.9,3148.6 1944.9,3136.3 1948.7,3124.0C1952.5,3111.7 1956.2,3099.4 1959.7,3087.0C1963.3,3074.6 1966.8,3062.2 1970.2,3049.8C1973.6,3037.3 1976.9,3024.9 1980.1,3012.4C1983.3,2999.9 1986.4,2987.3 1989.4,2974.8C1992.5,2962.3 1995.4,2949.7 1998.3,2937.1C2001.2,2924.6 2004.1,2912.0 2006.9,2899.4C2009.6,2886.7 2012.4,2874.1 2015.1,2861.5C2017.8,2848.9 2020.4,2836.2 2023.0,2823.6C2025.6,2810.9 2028.2,2798.2 2030.8,2785.6C2033.3,2772.9 2035.9,2760.3 2038.4,2747.6C2040.9,2734.9 2043.4,2722.2 2045.9,2709.6C2048.4,2696.9 2050.9,2684.2 2053.4,2671.6C2055.8,2658.9 2058.3,2646.2 2060.7,2633.5C2063.1,2620.9 2065.6,2608.2 2068.0,2595.5C2070.4,2582.8 2072.8,2570.1 2075.1,2557.4C2077.5,2544.8 2079.9,2532.1 2082.2,2519.4C2084.6,2506.7 2086.9,2494.0 2089.2,2481.3C2091.6,2468.6 2093.9,2455.9 2096.2,2443.2C2098.5,2430.5 2100.7,2417.8 2103.0,2405.1C2105.3,2392.4 2107.5,2379.7 2109.8,2367.0C2112.0,2354.3 2114.2,2341.6 2116.4,2328.8C2118.6,2316.1 2120.8,2303.4 2123.0,2290.7C2125.2,2278.0 2127.4,2265.2 2129.6,2252.5C2131.7,2239.8 2133.9,2227.1 2136.0,2214.3C2138.1,2201.6 2140.2,2188.9 2142.4,2176.1" fill="none" stroke="#f0f" stroke-width="12.3" stroke-linejoin="round" stroke-linecap="butt" clip-path="url(#cb)" />
<path d="M1699,3759.2L1961.7,3096.2" stroke="#f0f" stroke-width="12.3" stroke-linecap="round" fill="none"/>
<rect x="301.9" y="2249.9" width="155.6" height="137.4" fill="#000"/>
<rect x="279" y="2227" width="155.3" height="137.5" fill="#fff" stroke="#000" stroke-width="2.2"/>
<rect x="535.5" y="2232.6" width="565.3" height="399.4" fill="#000"/>
<rect x="512.5" y="2210" width="566.1" height="399.9" fill="#fff" stroke="#000" stroke-width="2.2"/>
<path d="M548,2267.7H687.3" stroke="#000" stroke-width="14" stroke-linecap="round" fill="none"/>
<path d="M548,2364.6H687.3" stroke="#f00" stroke-width="14" stroke-linecap="round" fill="none"/>
<path d="M548,2461.6H687.3" stroke="#00f" stroke-width="14" stroke-linecap="round" fill="none"/>
<path d="M548,2558.1H687.3" stroke="#f0f" stroke-width="14" stroke-linecap="round" fill="none"/>
</g>
<g id="texts" fill="#000">
<text transform="translate(155.21,1691.00) scale(0.9895,1.0397)" font-size="92.0" font-family="Liberation Sans, sans-serif" font-weight="bold">200</text>
<text transform="translate(416.39,1691.00) scale(0.9833,1.0397)" font-size="92.0" font-family="Liberation Sans, sans-serif" font-weight="bold">300</text>
<text transform="translate(677.55,1691.00) scale(0.9773,1.0397)" font-size="92.0" font-family="Liberation Sans, sans-serif" font-weight="bold">400</text>
<text transform="translate(936.43,1691.00) scale(0.9864,1.0397)" font-size="92.0" font-family="Liberation Sans, sans-serif" font-weight="bold">500</text>
<text transform="translate(1196.21,1691.00) scale(0.9895,1.0397)" font-size="92.0" font-family="Liberation Sans, sans-serif" font-weight="bold">600</text>
<text transform="translate(1455.53,1691.00) scale(0.9957,1.0397)" font-size="92.0" font-family="Liberation Sans, sans-serif" font-weight="bold">700</text>
<text transform="translate(1717.18,1691.00) scale(0.9864,1.0397)" font-size="92.0" font-family="Liberation Sans, sans-serif" font-weight="bold">800</text>
<text transform="translate(1976.96,1691.00) scale(0.9895,1.0397)" font-size="92.0" font-family="Liberation Sans, sans-serif" font-weight="bold">900</text>
<text transform="translate(2211.05,1691.00) scale(0.9947,1.0397)" font-size="92.0" font-family="Liberation Sans, sans-serif" font-weight="bold">1000</text>
<text transform="translate(807.30,1851.90) scale(0.9816,1.0440)" font-size="118.0" font-family="Liberation Sans, sans-serif" font-weight="bold">Wavelength (nm)</text>
<text transform="translate(646.01,202.80) scale(0.9645,1.0000)" font-size="91.0" font-family="Liberation Sans, sans-serif" font-weight="bold">(a)</text>
<text transform="translate(295.00,2330.80) scale(1.0099,1.0000)" font-size="97.0" font-family="Liberation Sans, sans-serif" font-weight="bold">(b)</text>
<text transform="translate(520.52,3909.00) scale(0.8371,1.0378)" font-size="102.5" font-family="Liberation Sans, sans-serif" font-weight="bold">1</text>
<text transform="translate(1129.58,3909.00) scale(1.0366,1.0378)" font-size="102.5" font-family="Liberation Sans, sans-serif" font-weight="bold">2</text>
<text transform="translate(1742.77,3909.00) scale(1.0249,1.0378)" font-size="102.5" font-family="Liberation Sans, sans-serif" font-weight="bold">3</text>
<text transform="translate(2352.06,3909.00) scale(1.0340,1.0378)" font-size="102.5" font-family="Liberation Sans, sans-serif" font-weight="bold">4</text>
<text transform="translate(1257.18,4059.80) scale(0.9918,1.0000)" font-size="130.0" font-family="Liberation Serif, serif" font-weight="bold">h</text>
<text transform="translate(1331.60,4059.80) scale(1.1600,1.0000)" font-size="130.0" font-family="Liberation Serif, serif" font-weight="bold">ν</text>
<text transform="translate(1437.67,4059.80) scale(1.0185,1.0000)" font-size="130.0" font-family="Liberation Serif, serif" font-weight="bold">[eV]</text>
<text transform="translate(1837.22,178.50) scale(1.0044,1.0000)" font-size="72.0" font-family="Liberation Serif, serif" font-weight="bold">pure SnO</text>
<text transform="translate(2132.07,206.90) scale(1.0219,1.0000)" font-size="44.8" font-family="Liberation Serif, serif" font-weight="bold">2</text>
<text transform="translate(1836.28,292.10) scale(0.9670,1.0375)" font-size="73.2" font-family="Liberation Sans, sans-serif" font-weight="bold">SnO</text>
<text transform="translate(1978.46,321.00) scale(0.9790,1.0000)" font-size="44.9" font-family="Liberation Sans, sans-serif" font-weight="bold">2</text>
<text transform="translate(2003.20,292.10) scale(0.9633,1.0375)" font-size="73.2" font-family="Liberation Sans, sans-serif" font-weight="bold">:Ti 1%</text>
<text transform="translate(1836.28,404.70) scale(0.9670,1.0375)" font-size="73.2" font-family="Liberation Sans, sans-serif" font-weight="bold">SnO</text>
<text transform="translate(1978.46,433.60) scale(0.9790,1.0000)" font-size="44.9" font-family="Liberation Sans, sans-serif" font-weight="bold">2</text>
<text transform="translate(2003.20,404.70) scale(0.9633,1.0375)" font-size="73.2" font-family="Liberation Sans, sans-serif" font-weight="bold">:Ti 2%</text>
<text transform="translate(1836.28,517.90) scale(0.9670,1.0375)" font-size="73.2" font-family="Liberation Sans, sans-serif" font-weight="bold">SnO</text>
<text transform="translate(1978.46,546.80) scale(0.9790,1.0000)" font-size="44.9" font-family="Liberation Sans, sans-serif" font-weight="bold">2</text>
<text transform="translate(2003.20,517.90) scale(0.9633,1.0375)" font-size="73.2" font-family="Liberation Sans, sans-serif" font-weight="bold">:Ti 4%</text>
<text transform="translate(722.76,2289.00) scale(1.0272,1.0355)" font-size="62.0" font-family="Liberation Sans, sans-serif" font-weight="bold">pure SnO</text>
<text transform="translate(1009.55,2310.90) scale(0.9985,1.0000)" font-size="38.6" font-family="Liberation Sans, sans-serif" font-weight="bold">2</text>
<text transform="translate(723.69,2386.00) scale(1.0279,1.0355)" font-size="62.0" font-family="Liberation Sans, sans-serif" font-weight="bold">SnO</text>
<text transform="translate(853.64,2408.00) scale(1.0172,1.0000)" font-size="38.3" font-family="Liberation Sans, sans-serif" font-weight="bold">2</text>
<text transform="translate(875.05,2386.00) scale(1.0275,1.0355)" font-size="62.0" font-family="Liberation Sans, sans-serif" font-weight="bold">:Ti 1%</text>
<text transform="translate(705.69,2481.60) scale(1.0279,1.0355)" font-size="62.0" font-family="Liberation Sans, sans-serif" font-weight="bold">SnO</text>
<text transform="translate(835.64,2503.60) scale(1.0172,1.0000)" font-size="38.3" font-family="Liberation Sans, sans-serif" font-weight="bold">2</text>
<text transform="translate(857.05,2481.60) scale(1.0275,1.0355)" font-size="62.0" font-family="Liberation Sans, sans-serif" font-weight="bold">:Ti 2%</text>
<text transform="translate(705.69,2578.60) scale(1.0279,1.0355)" font-size="62.0" font-family="Liberation Sans, sans-serif" font-weight="bold">SnO</text>
<text transform="translate(835.64,2600.60) scale(1.0172,1.0000)" font-size="38.3" font-family="Liberation Sans, sans-serif" font-weight="bold">2</text>
<text transform="translate(857.05,2578.60) scale(1.0275,1.0355)" font-size="62.0" font-family="Liberation Sans, sans-serif" font-weight="bold">:Ti 4%</text>
<text transform="translate(131.05,1373.97) rotate(-90) scale(0.9907,1.0266)" font-size="120.0" font-family="Liberation Sans, sans-serif" font-weight="bold">Absorbance (a.u)</text>
<text transform="translate(136.30,3269.21) rotate(-90) scale(1.2259,1.0600)" font-size="127.0" font-family="Liberation Serif, serif" font-weight="normal">(</text>
<text transform="translate(136.30,3221.53) rotate(-90) scale(1.0183,1.0000)" font-size="127.0" font-family="Liberation Serif, serif" font-weight="bold">α</text>
<text transform="translate(136.30,3144.90) rotate(-90) scale(1.1024,1.0000)" font-size="127.0" font-family="Liberation Serif, serif" font-weight="bold">h</text>
<text transform="translate(136.30,3060.30) rotate(-90) scale(1.1225,1.0000)" font-size="127.0" font-family="Liberation Serif, serif" font-weight="normal">ν</text>
<text transform="translate(136.30,2997.77) rotate(-90) scale(1.0933,1.0600)" font-size="127.0" font-family="Liberation Serif, serif" font-weight="normal">)</text>
<text transform="translate(95.60,2953.96) rotate(-90) scale(0.9028,1.0000)" font-size="90.0" font-family="Liberation Serif, serif" font-weight="normal">2</text>
<text transform="translate(136.30,2882.38) rotate(-90) scale(1.0060,1.0000)" font-size="127.0" font-family="Liberation Serif, serif" font-weight="bold">[a. u]</text>
</g>
</svg>
</body></html>
